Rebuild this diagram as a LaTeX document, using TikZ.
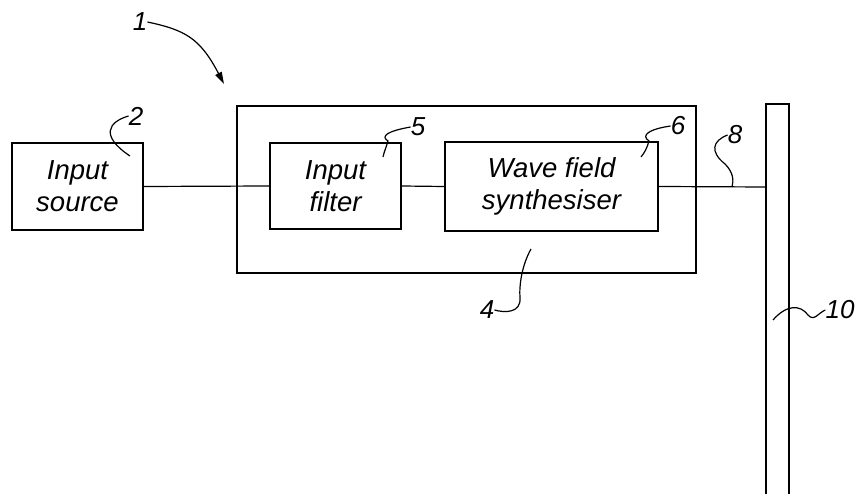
\documentclass[tikz,border=0pt]{standalone}
\usepackage{fontspec}
\setmainfont{Liberation Sans}
\usetikzlibrary{arrows.meta}

\tikzset{
  block/.style={draw, line width=1.8pt, inner sep=0pt, align=center,
    font=\fontsize{27.5}{32}\selectfont\itshape},
  refnum/.style={inner sep=0pt, font=\fontsize{26}{28}\selectfont\itshape},
  leader/.style={line width=1.2pt},
  wire/.style={line width=1.2pt}
}

\begin{document}
\begin{tikzpicture}[x=1pt,y=1pt,yscale=-1,xscale=1]
\useasboundingbox (0,0) rectangle (855,494);

%Shape: Rectangle [outer unit 4]
\node [draw, line width=1.8pt, minimum width=459pt, minimum height=167pt] (unit) at (466.5,189.5) {};
%Shape: Rectangle [input source 2]
\node [block, minimum width=131pt, minimum height=87pt] (src) at (77.5,186.5) {Input\\source};
%Shape: Rectangle [input filter 5]
\node [block, minimum width=131pt, minimum height=86pt] (filt) at (335.5,186) {Input\\filter};
%Shape: Rectangle [wave field synthesiser 6]
\node [block, minimum width=213pt, minimum height=89pt] (wfs) at (551.5,186.5) {Wave field\\synthesiser};
%Shape: Bar [loudspeaker array 10]
\draw [line width=1.8pt] (766,494) -- (766,104) -- (789,104) -- (789,494);
\coordinate (bar) at (766,187);

%Straight Lines
\draw [wire] (src.east) -- (filt.west);
\draw [wire] (filt.east) -- (wfs.west);
\draw [wire] (wfs.east) -- (bar);

% Text Node
\node [refnum] (n1) at (140,22) {1};
\node [refnum] (n2) at (136,116) {2};
\node [refnum] (n5) at (418,127) {5};
\node [refnum] (n6) at (678,126) {6};
\node [refnum] (n8) at (735,135) {8};
\node [refnum] (n4) at (487,310) {4};
\node [refnum] (n10) at (840,310) {10};

%Curve Lines
\draw [leader, -{Triangle[length=12pt,width=7pt]}] (n1.east) .. controls (185,30) and (200,38) .. (224,84);
\draw [leader] (n2.west) .. controls (108,122) and (100,136) .. (130,156);
\draw [leader] (n5.west) .. controls (388,131) and (380,136) .. (388,141) .. controls (386,148) and (384,152) .. (383,157);
\draw [leader] (n6.west) .. controls (650,129) and (640,135) .. (649,141) .. controls (647,148) and (645,152) .. (641,157);
\draw [leader] (n8.west) .. controls (712,141) and (710,152) .. (725,164) .. controls (733,172) and (734,180) .. (732,187);
\draw [leader] (n4.east) .. controls (505,313) and (521,313) .. (520,298) .. controls (519,285) and (522,265) .. (531,249);
\draw [leader] (n10.west) .. controls (818,313) and (814,322) .. (808,315) .. controls (800,304) and (786,305) .. (773,320);

\end{tikzpicture}
\end{document}
